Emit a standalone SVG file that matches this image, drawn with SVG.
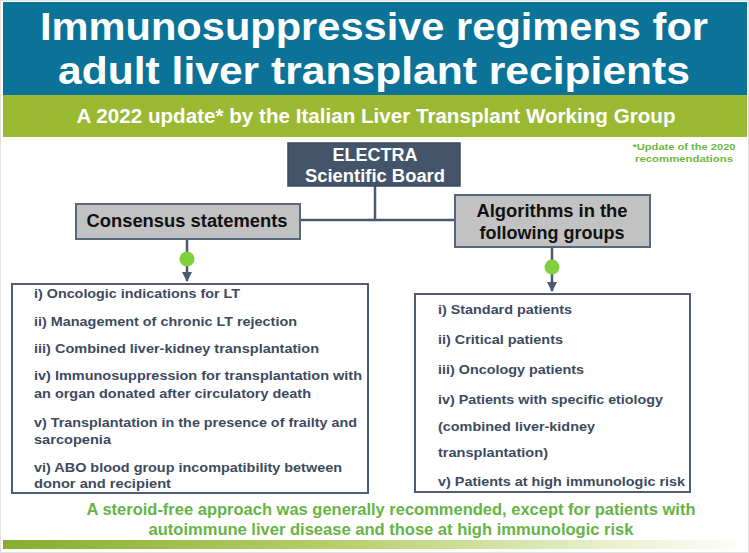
<svg xmlns="http://www.w3.org/2000/svg" width="749" height="553" viewBox="0 0 749 553">
<defs>
<linearGradient id="barGrad" x1="0" y1="0" x2="1" y2="0">
<stop offset="0" stop-color="#86ad30"/>
<stop offset="0.45" stop-color="#b6cf6a"/>
<stop offset="0.8" stop-color="#e6efc9"/>
<stop offset="1" stop-color="#ffffff"/>
</linearGradient>
<marker id="arr" viewBox="0 0 10 10" refX="9" refY="5" markerWidth="4" markerHeight="4" orient="auto" markerUnits="strokeWidth">
<path d="M0,0 L10,5 L0,10 z" fill="#4a5a70"/>
</marker>
<style>
.t{font-family:"Liberation Sans",Arial,sans-serif;font-weight:bold}
.title{fill:#ffffff;font-size:39px}
.sub{fill:#ffffff;font-size:20px}
.dark{fill:#44546a;stroke:#3a4a60;stroke-width:1.5}
.gray{fill:#c2c2c2;stroke:#56677e;stroke-width:2}
.hd{fill:#ffffff;font-size:18px}
.bk{fill:#111111;font-size:18px}
.list{fill:#ffffff;stroke:#4d5e75;stroke-width:2}
.it{fill:#3d4a5e;font-size:13px}
.conn{stroke:#4a5a70;stroke-width:2.5;fill:none}
.dot{fill:#7fd03a}
.note{fill:#6cb83e;font-size:9.5px}
.foot{fill:#66b445;font-size:16px}
</style>
</defs>
<rect x="0" y="0" width="749" height="553" fill="#ffffff"/>
<rect x="0.5" y="0.5" width="748" height="552" fill="none" stroke="#e2e2e2"/>
<rect x="3" y="2" width="744" height="93" fill="#0b7398"/>
<rect x="3" y="95" width="744" height="42" fill="#9bb833"/>
<text class="t title" x="374" y="40" text-anchor="middle" textLength="668" lengthAdjust="spacingAndGlyphs">Immunosuppressive regimens for</text>
<text class="t title" x="374" y="84" text-anchor="middle" textLength="632" lengthAdjust="spacingAndGlyphs">adult liver transplant recipients</text>
<text class="t sub" x="376" y="123" text-anchor="middle" textLength="599" lengthAdjust="spacingAndGlyphs">A 2022 update* by the Italian Liver Transplant Working Group</text>
<text class="t note" x="684" y="150" text-anchor="middle" textLength="103" lengthAdjust="spacingAndGlyphs">*Update of the 2020</text>
<text class="t note" x="684" y="162" text-anchor="middle" textLength="98" lengthAdjust="spacingAndGlyphs">recommendations</text>
<g id="connectors">
<path class="conn" d="M375,186 V220 M300,220 H455"/>
<path class="conn" d="M187,239 V281" marker-end="url(#arr)"/>
<path class="conn" d="M552,247 V291" marker-end="url(#arr)"/>
<circle class="dot" cx="187" cy="259" r="7.5"/>
<circle class="dot" cx="552" cy="267" r="7.5"/>
</g>
<g id="electra">
<rect class="dark" x="288" y="143" width="172" height="43"/>
<text class="t hd" x="375" y="161" text-anchor="middle">ELECTRA</text>
<text class="t hd" x="375" y="182" text-anchor="middle" textLength="140" lengthAdjust="spacingAndGlyphs">Scientific Board</text>
</g>
<g id="consensus">
<rect class="gray" x="76" y="204" width="224" height="35"/>
<text class="t bk" x="187" y="227" text-anchor="middle" textLength="201" lengthAdjust="spacingAndGlyphs">Consensus statements</text>
</g>
<g id="algorithms">
<rect class="gray" x="455" y="195" width="195" height="52"/>
<text class="t bk" x="552" y="217" text-anchor="middle" textLength="151" lengthAdjust="spacingAndGlyphs">Algorithms in the</text>
<text class="t bk" x="552" y="239" text-anchor="middle">following groups</text>
</g>
<g id="consensus-list">
<rect class="list" x="12" y="284" width="356" height="209"/>
<text class="t it" x="34" y="298" textLength="206" lengthAdjust="spacingAndGlyphs">i) Oncologic indications for LT</text>
<text class="t it" x="34" y="326" textLength="263" lengthAdjust="spacingAndGlyphs">ii) Management of chronic LT rejection</text>
<text class="t it" x="34" y="353" textLength="285" lengthAdjust="spacingAndGlyphs">iii) Combined liver-kidney transplantation</text>
<text class="t it" x="34" y="380" textLength="328" lengthAdjust="spacingAndGlyphs">iv) Immunosuppression for transplantation with</text>
<text class="t it" x="34" y="398" textLength="277" lengthAdjust="spacingAndGlyphs">an organ donated after circulatory death</text>
<text class="t it" x="34" y="427" textLength="323" lengthAdjust="spacingAndGlyphs">v) Transplantation in the presence of frailty and</text>
<text class="t it" x="34" y="444" textLength="77" lengthAdjust="spacingAndGlyphs">sarcopenia</text>
<text class="t it" x="34" y="472" textLength="308" lengthAdjust="spacingAndGlyphs">vi) ABO blood group incompatibility between</text>
<text class="t it" x="34" y="488" textLength="137" lengthAdjust="spacingAndGlyphs">donor and recipient</text>
</g>
<g id="algorithm-list">
<rect class="list" x="415" y="294" width="275" height="198"/>
<text class="t it" x="438" y="314" textLength="134" lengthAdjust="spacingAndGlyphs">i) Standard patients</text>
<text class="t it" x="438" y="344" textLength="125" lengthAdjust="spacingAndGlyphs">ii) Critical patients</text>
<text class="t it" x="438" y="374" textLength="146" lengthAdjust="spacingAndGlyphs">iii) Oncology patients</text>
<text class="t it" x="438" y="404" textLength="225" lengthAdjust="spacingAndGlyphs">iv) Patients with specific etiology</text>
<text class="t it" x="438" y="431" textLength="157" lengthAdjust="spacingAndGlyphs">(combined liver-kidney</text>
<text class="t it" x="438" y="457" textLength="110" lengthAdjust="spacingAndGlyphs">transplantation)</text>
<text class="t it" x="438" y="486" textLength="247" lengthAdjust="spacingAndGlyphs">v) Patients at high immunologic risk</text>
</g>
<text class="t foot" x="391" y="515" text-anchor="middle" textLength="609" lengthAdjust="spacingAndGlyphs">A steroid-free approach was generally recommended, except for patients with</text>
<text class="t foot" x="391" y="535" text-anchor="middle" textLength="485" lengthAdjust="spacingAndGlyphs">autoimmune liver disease and those at high immunologic risk</text>
<rect x="3" y="540" width="744" height="9" fill="url(#barGrad)"/>
</svg>
